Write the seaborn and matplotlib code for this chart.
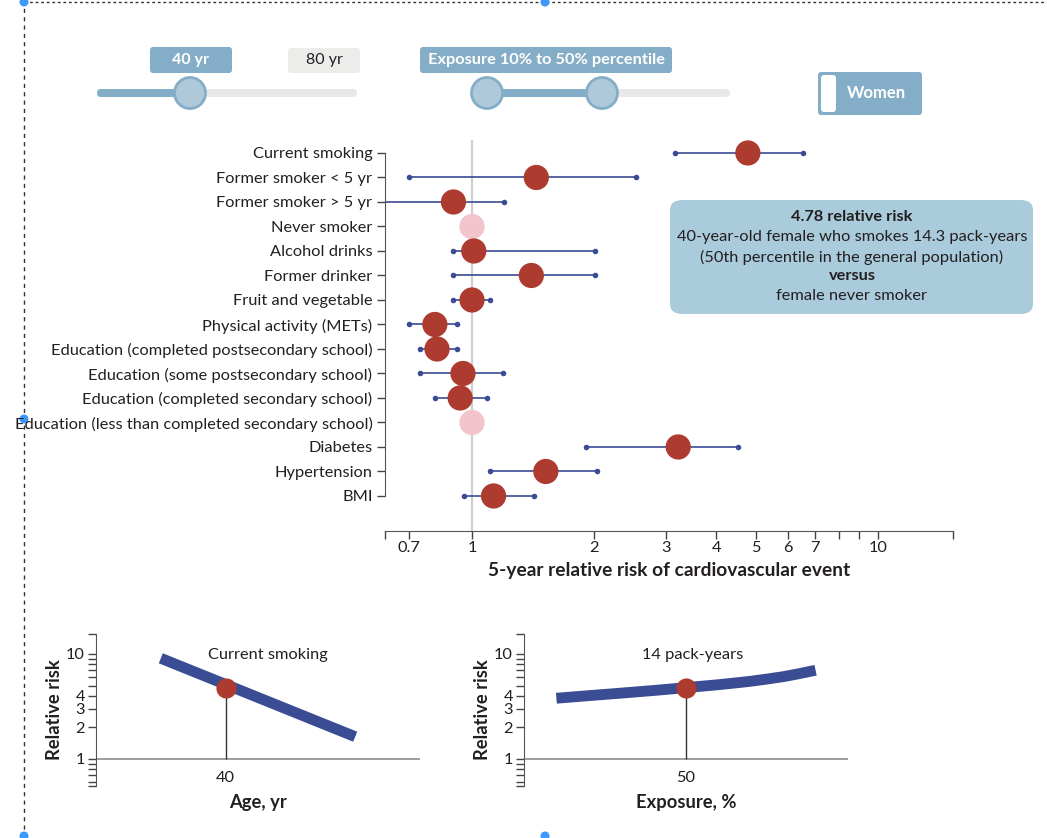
import numpy as np
import pandas as pd
import matplotlib
matplotlib.use("Agg")
import matplotlib.pyplot as plt
from matplotlib.patches import FancyBboxPatch, Ellipse, Circle
import seaborn as sns

# ----------------------------------------------------------
# Data
# ----------------------------------------------------------
factors = [
    "Current smoking", "Former smoker < 5 yr", "Former smoker > 5 yr",
    "Never smoker", "Alcohol drinks", "Former drinker", "Fruit and vegetable",
    "Physical activity (METs)", "Education (completed postsecondary school)",
    "Education (some postsecondary school)", "Education (completed secondary school)",
    "Education (less than completed secondary school)", "Diabetes",
    "Hypertension", "BMI",
]
rel_risk = [4.78, 1.44, 0.90, 1.00, 1.01, 1.40, 1.00, 0.81, 0.82, 0.95, 0.935, 1.00, 3.22, 1.52, 1.13]
ci_low = [3.16, 0.70, 0.60, np.nan, 0.90, 0.90, 0.90, 0.70, 0.745, 0.745, 0.81, np.nan, 1.91, 1.11, 0.955]
ci_high = [6.53, 2.54, 1.20, np.nan, 2.01, 2.01, 1.11, 0.92, 0.92, 1.19, 1.09, np.nan, 4.52, 2.03, 1.42]
is_reference = [False, False, False, True, False, False, False, False, False, False, False, True, False, False, False]

x_ticks = [0.7, 1, 2, 3, 4, 5, 6, 7, 8, 9, 10]
x_tick_labels = ["0.7", "1", "2", "3", "4", "5", "6", "7", "", "", "10"]

age_years = [30, 60]
age_risk = [9.1, 1.63]
age_selected = 40

exposure_pct = [10, 20, 30, 40, 50, 60, 65, 70, 75, 80, 85, 90]
exposure_risk = [3.79, 4.01, 4.24, 4.49, 4.78, 5.10, 5.29, 5.50, 5.77, 6.08, 6.50, 7.0]
exposure_selected = 50

selected_risk = 4.78
rr_ticks = [0.6, 0.7, 0.8, 0.9, 1, 2, 3, 4, 5, 6, 7, 8, 9, 10]
rr_tick_labels = ["", "", "", "", "1", "2", "3", "4", "", "", "", "", "", "10"]

df = pd.DataFrame({"factor": factors, "rr": rel_risk, "lo": ci_low, "hi": ci_high,
                   "ref": is_reference})
df["row"] = np.arange(len(df))

RED = "#ae3b2f"
PINK = "#f3c4cb"
BLUE = "#3a4c93"
WIDGET = "#84aec8"
KNOB = "#adc9da"
TEXT = "#231f20"
FS = 11.8

sns.set_style("ticks")
plt.rcParams["font.family"] = ["Lato", "DejaVu Sans"]
plt.rcParams["text.color"] = TEXT
plt.rcParams["axes.labelcolor"] = TEXT
plt.rcParams["xtick.color"] = "#444444"
plt.rcParams["ytick.color"] = "#444444"

W, H = 1047, 838
fig = plt.figure(figsize=(W / 100, H / 100), dpi=100)


def px_axes(l, t, r, b):
    return fig.add_axes([l / W, 1 - b / H, (r - l) / W, (b - t) / H])


# ----------------------------------------------------------
# Forest plot
# ----------------------------------------------------------
ax = px_axes(385, 140, 953, 531)
ax.set_xscale("log")
ax.axvline(1, color="#cfcfcf", lw=1.6, zorder=0)

ci = df.dropna()
ax.hlines(ci["row"], ci["lo"], ci["hi"], color=BLUE, lw=1.2, zorder=1)
ends = pd.concat([ci[["row", "lo"]].rename(columns={"lo": "x"}),
                  ci[["row", "hi"]].rename(columns={"hi": "x"})])
sns.scatterplot(data=ends, x="x", y="row", ax=ax, color=BLUE, s=16,
                linewidth=0, zorder=2, legend=False)
sns.scatterplot(data=df, x="rr", y="row", hue="ref", palette={False: RED, True: PINK},
                ax=ax, s=330, linewidth=0, zorder=3, legend=False)

ax.set_xlim(0.6105, 15.3)
ax.set_ylim(15.43, -0.53)
ax.set_xticks(x_ticks + [0.6105, 15.3])
ax.set_xticklabels(x_tick_labels + ["", ""])
ax.xaxis.set_minor_locator(matplotlib.ticker.NullLocator())
ax.set_yticks(df["row"])
ax.set_yticklabels(factors)
ax.tick_params(axis="y", length=6, width=1, pad=3, labelsize=FS, labelcolor=TEXT)
ax.tick_params(axis="x", length=6, width=1, pad=1, labelsize=FS, labelcolor=TEXT)
sns.despine(ax=ax)
ax.spines["left"].set_bounds(0, 14)
ax.spines["left"].set_color("#555555")
ax.spines["bottom"].set_color("#555555")
ax.set_xlabel("5-year relative risk of cardiovascular event", fontsize=13.8,
              fontweight="bold", labelpad=5)
ax.set_ylabel("")

# annotation box
box = FancyBboxPatch((670 / W, 1 - 314 / H), 363 / W, 114 / H,
                     boxstyle="round,pad=0,rounding_size=0.012",
                     transform=fig.transFigure, facecolor="#a9cbdc", edgecolor="none")
fig.patches.append(box)
cx = 852 / W
fig.text(cx, 1 - 217 / H, "4.78 relative risk", ha="center", va="center",
         fontsize=FS, fontweight="bold")
fig.text(cx, 1 - 237 / H, "40-year-old female who smokes 14.3 pack-years",
         ha="center", va="center", fontsize=FS)
fig.text(cx, 1 - 257 / H, "(50th percentile in the general population)",
         ha="center", va="center", fontsize=FS)
fig.text(cx, 1 - 276 / H, "versus", ha="center", va="center",
         fontsize=FS, fontweight="bold")
fig.text(cx, 1 - 296 / H, "female never smoker", ha="center", va="center", fontsize=FS)


# ----------------------------------------------------------
# Small panels
# ----------------------------------------------------------
def small_panel(l, r, xs, ys, xlim, sel_x, label, title, title_x):
    a = px_axes(l, 634, r, 786)
    a.set_yscale("log")
    a.set_xlim(*xlim)
    a.set_ylim(0.553, 15.5)
    a.axhline(1, color="#8c8c8c", lw=1.2, zorder=0)
    sns.lineplot(x=xs, y=ys, ax=a, color=BLUE, lw=7.8, zorder=2,
                 solid_capstyle="butt", solid_joinstyle="round")
    a.vlines(sel_x, 1, selected_risk, color="#333333", lw=1, zorder=1)
    sns.scatterplot(x=[sel_x], y=[selected_risk], ax=a, color=RED, s=210,
                    linewidth=0, zorder=3, legend=False)
    a.set_yticks(rr_ticks + [0.553, 15.5])
    a.set_yticklabels(rr_tick_labels + ["", ""])
    a.yaxis.set_minor_locator(matplotlib.ticker.NullLocator())
    a.tick_params(axis="y", length=6, width=1, pad=2, labelsize=FS, labelcolor=TEXT)
    a.set_xticks([])
    for s in ["top", "right", "bottom"]:
        a.spines[s].set_visible(False)
    a.spines["left"].set_color("#555555")
    a.text(sel_x, 0.053, str(sel_x), transform=a.get_xaxis_transform(),
           ha="center", va="center", fontsize=FS)
    a.set_xlabel(label, fontsize=13.2, fontweight="bold", labelpad=6)
    a.set_ylabel("Relative risk", fontsize=13.2, fontweight="bold", labelpad=2)
    a.text(title_x, 0.86, title, transform=a.get_xaxis_transform(),
           ha="center", va="center", fontsize=FS)
    return a


small_panel(96, 420, age_years, age_risk, (20, 70), age_selected,
            "Age, yr", "Current smoking", 46.5)
small_panel(524, 848, exposure_pct, exposure_risk, (0, 100), exposure_selected,
            "Exposure, %", "14 pack-years", 52)

# ----------------------------------------------------------
# Widget strip and frame (pixel overlay)
# ----------------------------------------------------------
ov = fig.add_axes([0, 0, 1, 1], zorder=-1)
ov.set_xlim(0, W)
ov.set_ylim(H, 0)
ov.axis("off")


def rbox(x0, y0, x1, y1, color, r=3):
    ov.add_patch(FancyBboxPatch((x0, y0), x1 - x0, y1 - y0,
                                boxstyle=f"round,pad=0,rounding_size={r}",
                                facecolor=color, edgecolor="none"))


def knob(x, y):
    ov.add_patch(Ellipse((x, y), 31, 31, facecolor=KNOB, edgecolor=WIDGET, lw=2, zorder=3))


rbox(150, 47, 232, 73, WIDGET)
ov.text(191, 60, "40 yr", ha="center", va="center", color="white",
        fontsize=11.5, fontweight="bold")
rbox(288, 48, 360, 73, "#ececea")
ov.text(324, 60, "80 yr", ha="center", va="center", color=TEXT, fontsize=11.5)
rbox(97, 89, 357, 97, "#e8e8e8", r=4)
rbox(97, 89, 190, 97, WIDGET, r=4)
knob(190, 93)

rbox(420, 47, 672, 73, WIDGET)
ov.text(546, 60, "Exposure 10% to 50% percentile", ha="center", va="center",
        color="white", fontsize=11.8, fontweight="bold")
rbox(472, 89, 730, 97, "#e8e8e8", r=4)
rbox(487, 89, 602, 97, WIDGET, r=0)
knob(487, 93)
knob(602, 93)

rbox(818, 72, 922, 115, WIDGET)
rbox(821, 75, 836, 112, "white", r=3)
ov.text(876, 93, "Women", ha="center", va="center", color="white",
        fontsize=12, fontweight="bold")

ov.plot([24, 24], [0, H], color="#333333", lw=1, ls=(0, (3, 3)))
ov.plot([24, W], [2, 2], color="#333333", lw=1, ls=(0, (2, 2)))
for hx, hy in [(24, 2), (545, 2), (24, 419), (24, 836), (545, 836)]:
    ov.add_patch(Circle((hx, hy), 4.5, facecolor="#3b99fc", edgecolor="none", zorder=5))

fig.savefig("out.png", dpi=100)
